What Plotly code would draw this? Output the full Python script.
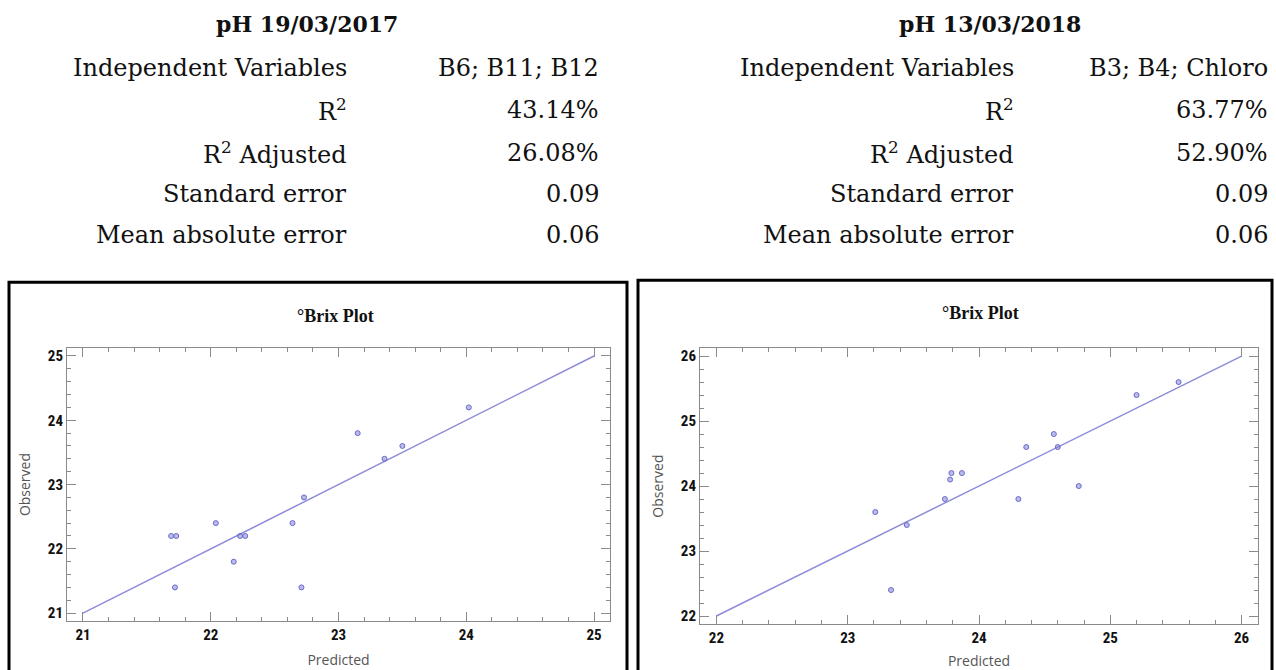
import plotly.graph_objects as go

W, H = 1276, 670

# ---------------- data ----------------
pred_2017 = [21.69, 21.73, 21.72, 22.04, 22.18, 22.23, 22.27, 22.64, 22.71, 22.73, 23.15, 23.36, 23.50, 24.02]
obs_2017 = [22.2, 22.2, 21.4, 22.4, 21.8, 22.2, 22.2, 22.4, 21.4, 22.8, 23.8, 23.4, 23.6, 24.2]
fit_2017 = [21, 25]

pred_2018 = [23.21, 23.33, 23.45, 23.74, 23.78, 23.79, 23.87, 24.30, 24.36, 24.57, 24.60, 24.76, 25.20, 25.52]
obs_2018 = [23.6, 22.4, 23.4, 23.8, 24.1, 24.2, 24.2, 23.8, 24.6, 24.8, 24.6, 24.0, 25.4, 25.6]
fit_2018 = [22, 26]

row_labels = ["Independent Variables", "R<sup>2</sup>", "R<sup>2</sup> Adjusted",
              "Standard error", "Mean absolute error"]
values_2017 = ["B6; B11; B12", "43.14%", "26.08%", "0.09", "0.06"]
values_2018 = ["B3; B4; Chloro", "63.77%", "52.90%", "0.09", "0.06"]
title_2017 = "pH 19/03/2017"
title_2018 = "pH 13/03/2018"
plot_title = "°Brix Plot"

# ---------------- helpers ----------------
def px(x):
    return x / W

def py(y):
    return 1 - y / H

LINE_C = "#8c8cd9"
MARK_FILL = "rgba(120,120,215,0.5)"
MARK_LINE = "#6a6acc"
AX_C = "#8a8a8a"

fig = go.Figure()

for i, (xs, ys, fit) in enumerate([(pred_2017, obs_2017, fit_2017), (pred_2018, obs_2018, fit_2018)]):
    xa = "x" if i == 0 else "x2"
    ya = "y" if i == 0 else "y2"
    fig.add_trace(go.Scatter(x=fit, y=fit, mode="lines", xaxis=xa, yaxis=ya,
                             line=dict(color=LINE_C, width=1.5), showlegend=False, hoverinfo="skip"))
    fig.add_trace(go.Scatter(x=xs, y=ys, mode="markers", xaxis=xa, yaxis=ya,
                             marker=dict(size=5, color=MARK_FILL, line=dict(color=MARK_LINE, width=1)),
                             showlegend=False))

tickfont = dict(family="Liberation Sans Narrow, Roboto Condensed, Liberation Sans, Arial", size=15,
                color="#111", weight="bold")
titlefont = dict(family="Open Sans, Noto Sans, sans-serif", size=14, color="#555")

def axis(domain, rng, title, anchor, standoff):
    return dict(domain=domain, range=rng, anchor=anchor, dtick=1, tick0=0,
                showgrid=False, zeroline=False, showline=True, linecolor=AX_C, linewidth=1,
                mirror="allticks", ticks="inside", ticklen=9, tickcolor=AX_C, tickwidth=1,
                minor=dict(dtick=0.2, ticks="inside", ticklen=4, tickcolor=AX_C, tickwidth=1),
                tickfont=tickfont, title=dict(text=title, font=titlefont, standoff=standoff))

fig.update_layout(
    width=W, height=H, autosize=False,
    margin=dict(l=0, r=0, t=0, b=0),
    paper_bgcolor="white", plot_bgcolor="white",
    xaxis=axis([px(67), px(610)], [20.875, 25.125], "Predicted", "y", 12),
    yaxis=axis([py(622), py(348)], [20.875, 25.125], "Observed", "x", 13),
    xaxis2=axis([px(700), px(1258)], [21.875, 26.125], "Predicted", "y2", 12),
    yaxis2=axis([py(625), py(348)], [21.875, 26.125], "Observed", "x2", 13),
)

# outer boxes
fig.add_shape(type="rect", xref="paper", yref="paper", x0=px(9), x1=px(627), y0=py(680), y1=py(282),
              line=dict(color="black", width=3), layer="below")
fig.add_shape(type="rect", xref="paper", yref="paper", x0=px(638), x1=px(1272), y0=py(680), y1=py(280),
              line=dict(color="black", width=3), layer="below")

ann = []
serif = "DejaVu Serif, Liberation Serif, serif"
# plot titles
for cx, cy in [(335, 316), (980, 313)]:
    ann.append(dict(text=plot_title, x=px(cx), y=py(cy), xref="paper", yref="paper", showarrow=False,
                    xanchor="center", yanchor="middle",
                    font=dict(family="Liberation Serif, serif", size=18, color="#111", weight="bold")))

# tables
row_y = [67, 109, 152, 194, 235]
for title, vals, tcx, lab_r, val_r in [(title_2017, values_2017, 307, 349, 601),
                                       (title_2018, values_2018, 990, 1016, 1270)]:
    ann.append(dict(text=title, x=px(tcx), y=py(23), xref="paper", yref="paper", showarrow=False,
                    xanchor="center", yanchor="middle",
                    font=dict(family=serif, size=22, color="#111", weight="bold")))
    for lab, v, yy in zip(row_labels, vals, row_y):
        ann.append(dict(text=lab, x=px(lab_r), y=py(yy), xref="paper", yref="paper", showarrow=False,
                        xanchor="right", yanchor="middle", font=dict(family=serif, size=24, color="#111")))
        ann.append(dict(text=v, x=px(val_r), y=py(yy), xref="paper", yref="paper", showarrow=False,
                        xanchor="right", yanchor="middle", font=dict(family=serif, size=24, color="#111")))

fig.update_layout(annotations=ann)

fig.write_html("out.html", config={"displayModeBar": False},
               post_script="document.body.style.margin='0';document.body.style.padding='0';"
                           "document.body.style.overflow='hidden';")
